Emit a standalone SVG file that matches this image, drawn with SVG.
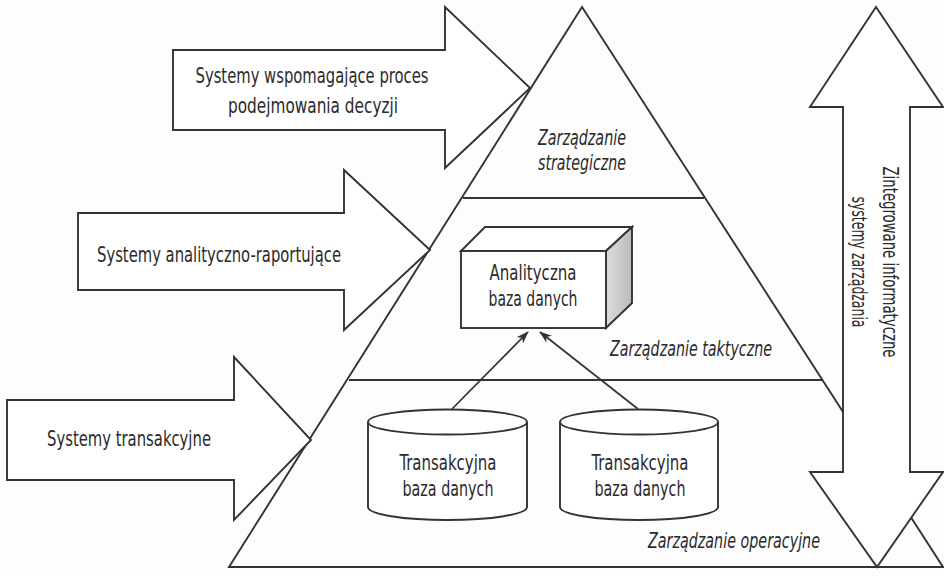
<svg xmlns="http://www.w3.org/2000/svg" width="944" height="576" viewBox="0 0 944 576">
  <defs>
    <style>
      .ln { fill: none; stroke: #333333; stroke-width: 1.9; stroke-linejoin: miter; }
      .shape { fill: #ffffff; stroke: #333333; stroke-width: 1.9; stroke-linejoin: miter; }
      .lbl { font-family: "Liberation Sans Narrow", "DejaVu Sans Condensed", "Liberation Sans", sans-serif; font-size: 22px; fill: #2b2b2b; text-anchor: middle; }
      .lvl { font-style: italic; }
      .vert { font-size: 21px; }
      .link { fill: none; stroke: #333333; stroke-width: 1.7; marker-end: url(#head); }
    </style>
    <marker id="head" viewBox="0 0 14 10" refX="13" refY="5" markerWidth="13" markerHeight="9" markerUnits="userSpaceOnUse" orient="auto">
      <path d="M0,0 L14,5 L0,10 L4,5 z" fill="#333333"/>
    </marker>
    <linearGradient id="side" x1="0" y1="0" x2="1" y2="0">
      <stop offset="0" stop-color="#dcdcde"/>
      <stop offset="1" stop-color="#bcbcc0"/>
    </linearGradient>
  </defs>

  <rect x="0" y="0" width="944" height="576" fill="#fdfdfd"/>

  <!-- management pyramid -->
  <g id="pyramid">
    <polygon class="ln" points="582,7 943,567 229,567"/>
    <line class="ln" x1="463" y1="198" x2="704" y2="198"/>
    <line class="ln" x1="349" y1="380" x2="823" y2="380"/>
    <text class="lbl lvl" x="582" y="145" textLength="88" lengthAdjust="spacingAndGlyphs">Zarządzanie</text>
    <text class="lbl lvl" x="582" y="170" textLength="88" lengthAdjust="spacingAndGlyphs">strategiczne</text>
    <text class="lbl lvl" x="691" y="356" textLength="162" lengthAdjust="spacingAndGlyphs">Zarządzanie taktyczne</text>
    <text class="lbl lvl" x="734" y="548" textLength="172" lengthAdjust="spacingAndGlyphs">Zarządzanie operacyjne</text>
  </g>

  <!-- system arrows pointing into the pyramid -->
  <g id="arrow-decision">
    <polygon class="shape" points="173,50 445,50 445,7 530,88 445,168 445,130 173,130"/>
    <text class="lbl" x="312" y="83" textLength="233" lengthAdjust="spacingAndGlyphs">Systemy wspomagające proces</text>
    <text class="lbl" x="313" y="113" textLength="170" lengthAdjust="spacingAndGlyphs">podejmowania decyzji</text>
  </g>
  <g id="arrow-analytic">
    <polygon class="shape" points="78,213 344,213 344,170 430,250 344,330 344,290 78,290"/>
    <text class="lbl" x="219" y="262" textLength="244" lengthAdjust="spacingAndGlyphs">Systemy analityczno-raportujące</text>
  </g>
  <g id="arrow-transaction">
    <polygon class="shape" points="7,400 234,400 234,357 311,440 234,520 234,480 7,480"/>
    <text class="lbl" x="129" y="446" textLength="164" lengthAdjust="spacingAndGlyphs">Systemy transakcyjne</text>
  </g>

  <!-- analytical database (box) -->
  <g id="analytic-db">
    <polygon class="shape" points="461,251 485,227 632,227 606,251"/>
    <polygon points="606,251 632,227 632,303 606,328" fill="url(#side)" stroke="#333333" stroke-width="1.9" stroke-linejoin="miter"/>
    <rect class="shape" x="461" y="251" width="145" height="77"/>
    <text class="lbl" x="533" y="280" textLength="87" lengthAdjust="spacingAndGlyphs">Analityczna</text>
    <text class="lbl" x="533" y="306" textLength="89" lengthAdjust="spacingAndGlyphs">baza danych</text>
  </g>

  <!-- transactional databases (cylinders) -->
  <g id="trans-db-1">
    <path class="shape" d="M368,422 L368,507 A79.5,13 0 0 0 527,507 L527,422"/>
    <ellipse class="shape" cx="447.5" cy="422" rx="79.5" ry="12.5"/>
    <text class="lbl" x="448" y="470" textLength="97" lengthAdjust="spacingAndGlyphs">Transakcyjna</text>
    <text class="lbl" x="448" y="496" textLength="91" lengthAdjust="spacingAndGlyphs">baza danych</text>
  </g>
  <g id="trans-db-2">
    <path class="shape" d="M560,422 L560,507 A79,13 0 0 0 718,507 L718,422"/>
    <ellipse class="shape" cx="639" cy="422" rx="79" ry="12.5"/>
    <text class="lbl" x="640" y="470" textLength="97" lengthAdjust="spacingAndGlyphs">Transakcyjna</text>
    <text class="lbl" x="640" y="496" textLength="91" lengthAdjust="spacingAndGlyphs">baza danych</text>
  </g>

  <!-- data flows -->
  <g id="connectors">
    <line class="link" x1="452" y1="409" x2="528" y2="332"/>
    <line class="link" x1="638" y1="409" x2="540" y2="332"/>
  </g>

  <!-- integrated systems double arrow -->
  <g id="integrated">
    <polygon class="shape" points="876,7 943,107 910,107 910,472 943,472 877,567 810,472 843,472 843,107 810,107"/>
    <text class="lbl vert" x="883" y="262" transform="rotate(90 883 262)" textLength="191" lengthAdjust="spacingAndGlyphs">Zintegrowane informatyczne</text>
    <text class="lbl vert" x="852" y="262" transform="rotate(90 852 262)" textLength="131" lengthAdjust="spacingAndGlyphs">systemy zarządzania</text>
  </g>
</svg>
